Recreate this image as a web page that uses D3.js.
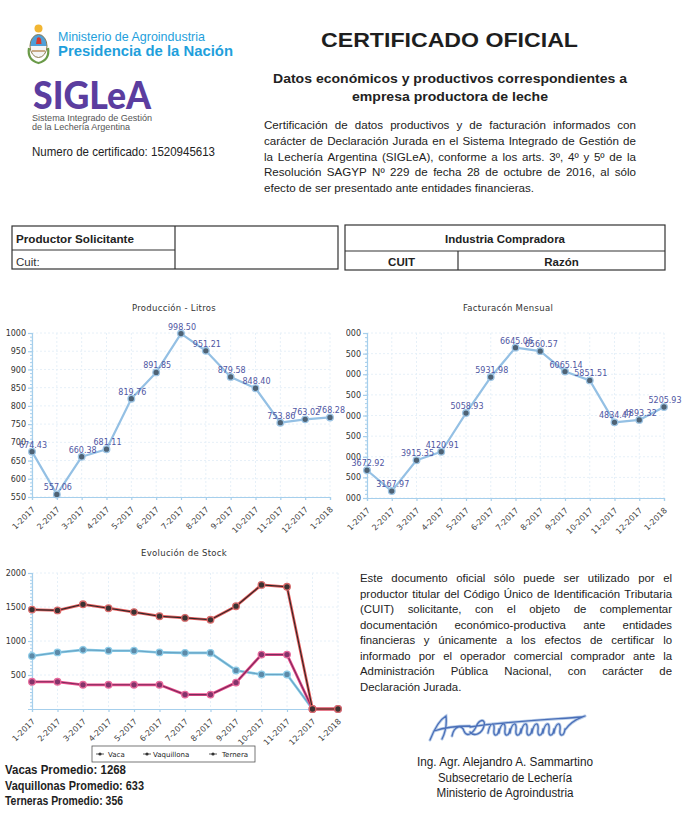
<!DOCTYPE html>
<html><head><meta charset="utf-8">
<script src="https://cdn.jsdelivr.net/npm/d3@7"></script>
<style>body{margin:0;background:#fff}svg{display:block}</style>
</head><body>
<script>
// ---------- DATA ----------
const months = ["1-2017","2-2017","3-2017","4-2017","5-2017","6-2017","7-2017","8-2017","9-2017","10-2017","11-2017","12-2017","1-2018"];
const produccion = [674.43,557.06,660.38,681.11,819.76,891.85,998.50,951.21,879.58,848.40,753.86,763.02,768.28];
const produccionTicks = [550,600,650,700,750,800,850,900,950,1000];
const facturacion = [3672.92,3167.97,3915.35,4120.91,5058.93,5931.98,6645.06,6560.57,6065.14,5851.51,4834.47,4893.32,5205.93];
const facturacionTicks = [3000,3500,4000,4500,5000,5500,6000,6500,7000];
const stockVaca = [1462,1450,1540,1482,1425,1365,1340,1312,1512,1825,1797,0,0];
const stockVaquillona = [780,832,870,857,857,832,825,825,567,508,508,0,0];
const stockTernera = [400,400,356,356,356,356,212,212,388,800,800,0,0];
const stockTicks = [500,1000,1500,2000];
const stockSeries = ["Vaca","Vaquillona","Ternera"];
const promedios = ["Vacas Promedio: 1268","Vaquillonas Promedio: 633","Terneras Promedio: 356"];

const headerParagraph = [
 "Certificación de datos productivos y de facturación informados con",
 "carácter de Declaración Jurada en el Sistema Integrado de Gestión de",
 "la Lechería Argentina (SIGLeA), conforme a los arts. 3º, 4º y 5º de la",
 "Resolución SAGYP Nº 229 de fecha 28 de octubre de 2016, al sólo",
 "efecto de ser presentado ante entidades financieras."
];
const legalParagraph = [
 "Este documento oficial sólo puede ser utilizado por el",
 "productor titular del Código Único de Identificación Tributaria",
 "(CUIT) solicitante, con el objeto de complementar",
 "documentación económico-productiva ante entidades",
 "financieras y únicamente a los efectos de certificar lo",
 "informado por el operador comercial comprador ante la",
 "Administración Pública Nacional, con carácter de",
 "Declaración Jurada."
];
const firmante = ["Ing. Agr. Alejandro A. Sammartino","Subsecretario de Lechería","Ministerio de Agroindustria"];

// ---------- SETUP ----------
const W=693,H=827;
const SANS='"Liberation Sans", Arial, sans-serif';
const CH='"DejaVu Sans", sans-serif';
const svg=d3.select('body').append('svg').attr('width',W).attr('height',H);
svg.append('rect').attr('width',W).attr('height',H).attr('fill','#fff');

function txt(g,x,y,s,o={}){
  const t=g.append('text').attr('x',x).attr('y',y).text(s)
    .style('font-family',o.family||SANS).style('font-size',(o.size||12)+'px')
    .style('font-weight',o.weight||'normal').attr('fill',o.fill||'#222')
    .attr('text-anchor',o.anchor||'start');
  if(o.len) t.attr('textLength',o.len).attr('lengthAdjust','spacingAndGlyphs');
  if(o.ls) t.style('letter-spacing',o.ls+'px');
  return t;
}
function justify(g,lines,x,y0,width,lh,size,lastLeft){
  lines.forEach((line,i)=>{
    const y=y0+i*lh;
    if(i===lines.length-1 && lastLeft){ txt(g,x,y,line,{size}); return; }
    const words=line.split(' ');
    const nodes=words.map(w=>txt(g,0,y,w,{size}));
    const ws=nodes.map(n=>n.node().getComputedTextLength());
    const sum=d3.sum(ws);
    let gap=(width-sum)/(words.length-1), sc=1;
    if(gap<2.5){gap=2.5; sc=(width-gap*(words.length-1))/sum;}
    let cx=x;
    nodes.forEach((n,j)=>{n.attr('x',cx); if(sc<1) n.attr('textLength',ws[j]*sc).attr('lengthAdjust','spacingAndGlyphs'); cx+=ws[j]*sc+gap;});
  });
}

// ---------- HEADER ----------
const hd=svg.append('g');
const ca=hd.append('g');
ca.append('circle').attr('cx',38.5).attr('cy',28.5).attr('r',4).attr('fill','#f2b632');
ca.append('path').attr('d','M29,48 Q27,60 38.5,63 Q50,60 48,48').attr('fill','none').attr('stroke','#6a9a48').attr('stroke-width',2.2);
ca.append('clipPath').attr('id','ov').append('ellipse').attr('cx',38.5).attr('cy',46).attr('rx',8.5).attr('ry',11.5);
ca.append('rect').attr('x',29).attr('y',34).attr('width',19).attr('height',12).attr('fill','#4f9fd8').attr('clip-path','url(#ov)');
ca.append('rect').attr('x',29).attr('y',46).attr('width',19).attr('height',12).attr('fill','#f5f5f5').attr('clip-path','url(#ov)');
ca.append('path').attr('d','M36,44 L37,38 Q39.5,36 41,39 L41.5,44 Z').attr('fill','#d83a2e');
ca.append('path').attr('d','M32,51 L45,51').attr('stroke','#b89060').attr('stroke-width',1.5);
ca.append('ellipse').attr('cx',38.5).attr('cy',46).attr('rx',8.5).attr('ry',11.5).attr('fill','none').attr('stroke','#8a7a50').attr('stroke-width',1);
txt(hd,58,41,'Ministerio de Agroindustria',{size:13,fill:'#1f9fdc',len:147});
txt(hd,58,56,'Presidencia de la Nación',{size:15,weight:'bold',fill:'#1f9fdc',len:175});
txt(hd,33,109,'SIGLeA',{size:38,weight:900,family:'Lato, "Open Sans", sans-serif',fill:'#5b3d9f',len:118});
txt(hd,32,121,'Sistema Integrado de Gestión',{size:9,fill:'#555',len:120});
txt(hd,32,130,'de la Lechería Argentina',{size:9,fill:'#555',len:98});
txt(hd,32,156,'Numero de certificado: 1520945613',{size:12,fill:'#222',len:183});
txt(hd,449.5,47,'CERTIFICADO OFICIAL',{size:21,weight:'bold',anchor:'middle',fill:'#1e1e1e',len:257});
txt(hd,450,83,'Datos económicos y productivos correspondientes a',{size:13.5,weight:'bold',anchor:'middle',len:354});
txt(hd,450,101,'empresa productora de leche',{size:13.5,weight:'bold',anchor:'middle',len:196});
justify(hd,headerParagraph,264,129,372,15.8,11.6,true);

// ---------- TABLES ----------
const tb=svg.append('g').attr('fill','none').attr('stroke','#333').attr('stroke-width',1.2);
tb.append('rect').attr('x',12).attr('y',226).attr('width',326).attr('height',43);
tb.append('line').attr('x1',175).attr('x2',175).attr('y1',226).attr('y2',269);
tb.append('line').attr('x1',12).attr('x2',175).attr('y1',250).attr('y2',250);
tb.append('rect').attr('x',345).attr('y',225).attr('width',320).attr('height',45);
tb.append('line').attr('x1',345).attr('x2',665).attr('y1',251).attr('y2',251);
tb.append('line').attr('x1',458).attr('x2',458).attr('y1',251).attr('y2',270);
txt(svg,16,243,'Productor Solicitante',{size:11.5,weight:'bold',len:118});
txt(svg,16,266,'Cuit:',{size:11.5,fill:'#333'});
txt(svg,505,243,'Industria Compradora',{size:11.5,weight:'bold',anchor:'middle',len:120});
txt(svg,401.5,266,'CUIT',{size:11.5,weight:'bold',anchor:'middle'});
txt(svg,561.5,266,'Razón',{size:11.5,weight:'bold',anchor:'middle'});

// ---------- CHART HELPERS ----------
const AX='#a6cfec', GRID='#e6f0f8';
function frame(g,x,y,ticks,minorStep,clipId){
  const [r0,r1]=x.range(); const [yb,yt]=y.range();
  g.append('g').selectAll('line').data(x.domain()).join('line')
    .attr('x1',d=>x(d)).attr('x2',d=>x(d)).attr('y1',yt).attr('y2',yb).attr('stroke',GRID).attr('stroke-dasharray','2,2');
  g.append('g').selectAll('line').data(ticks).join('line')
    .attr('x1',r0).attr('x2',r1).attr('y1',d=>y(d)).attr('y2',d=>y(d)).attr('stroke',GRID).attr('stroke-dasharray','2,2');
  const wrap=g.append('g');
  if(clipId) wrap.attr('clip-path',`url(#${clipId})`);
  const dmn=y.domain();
  const minor=wrap.append('g').attr('transform',`translate(${r0},0)`).call(d3.axisLeft(y).tickValues(d3.range(dmn[0],dmn[1]+0.001,minorStep)).tickSize(2).tickFormat(''));
  minor.selectAll('path,line').attr('stroke',AX);
  const ya=wrap.append('g').attr('transform',`translate(${r0},0)`).call(d3.axisLeft(y).tickValues(ticks).tickSize(4).tickPadding(2).tickFormat(d3.format('d')));
  ya.selectAll('path,line').attr('stroke',AX).attr('stroke-width',1.2);
  ya.selectAll('text').style('font-family',CH).style('font-size','8px').attr('fill','#333');
  const xa=g.append('g').attr('transform',`translate(0,${yb})`).call(d3.axisBottom(x).tickSize(3).tickFormat(d=>d));
  xa.selectAll('path,line').attr('stroke',AX).attr('stroke-width',1.2);
  xa.selectAll('text').attr('y',0).attr('dy',0).attr('transform','translate(3,13) rotate(-45)')
    .style('text-anchor','end').style('font-family',CH).style('font-size','8px').attr('fill','#444');
}
function series(g,x,y,vals,o){
  const line=d3.line().x((d,i)=>x(months[i])).y(d=>y(d));
  g.append('path').datum(vals).attr('d',line).attr('fill','none').attr('stroke',o.outer).attr('stroke-width',o.ow||3).attr('stroke-linejoin','round');
  if(o.inner) g.append('path').datum(vals).attr('d',line).attr('fill','none').attr('stroke',o.inner).attr('stroke-width',1.1);
  g.append('g').selectAll('circle').data(vals).join('circle')
    .attr('cx',(d,i)=>x(months[i])).attr('cy',d=>y(d)).attr('r',3.3)
    .attr('fill',o.mfill).attr('stroke',o.mstroke).attr('stroke-width',1.3);
  if(o.labels) g.append('g').selectAll('text').data(vals).join('text')
    .attr('x',(d,i)=>x(months[i])+1).attr('y',d=>y(d)-4).attr('text-anchor','middle')
    .style('font-family',CH).style('font-size','8px').attr('fill','#4f56a2').text(d=>d.toFixed(2));
}

// ---------- CHART 1: Producción ----------
{
  const g=svg.append('g');
  const x=d3.scalePoint().domain(months).range([32,330]);
  const y=d3.scaleLinear().domain([550,1000]).range([497,333]);
  txt(g,174,311,'Producción - Litros',{family:CH,size:8.5,anchor:'middle',fill:'#333',ls:0.3});
  frame(g,x,y,produccionTicks,10);
  series(g,x,y,produccion,{outer:'#94c0e4',ow:2.2,mfill:'#4e6274',mstroke:'#9cc4e4',labels:true});
}
// ---------- CHART 2: Facturación ----------
{
  const g=svg.append('g');
  g.append('clipPath').attr('id','c2').append('rect').attr('x',346).attr('y',300).attr('width',347).attr('height',240);
  const x=d3.scalePoint().domain(months).range([367,664]);
  const y=d3.scaleLinear().domain([3000,7000]).range([498,333]);
  txt(g,508,311,'Facturacón Mensual',{family:CH,size:8.5,anchor:'middle',fill:'#333',ls:0.3});
  frame(g,x,y,facturacionTicks,100,'c2');
  series(g,x,y,facturacion,{outer:'#94c0e4',ow:2.2,mfill:'#4e6274',mstroke:'#9cc4e4',labels:true});
}
// ---------- CHART 3: Stock ----------
{
  const g=svg.append('g');
  const x=d3.scalePoint().domain(months).range([32,338]);
  const y=d3.scaleLinear().domain([0,2000]).range([709,573]);
  txt(g,184,556,'Evolución de Stock',{family:CH,size:8.5,anchor:'middle',fill:'#333',ls:0.3});
  frame(g,x,y,stockTicks,50);
  series(g,x,y,stockVaquillona,{outer:'#86cbe8',ow:2.6,inner:'#6aa4c4',mfill:'#5c8aa8',mstroke:'#8ccbe8'});
  series(g,x,y,stockTernera,{outer:'#ec4a8a',ow:2.8,inner:'#7a2c5c',mfill:'#84336a',mstroke:'#e86a9c'});
  series(g,x,y,stockVaca,{outer:'#e65a5a',ow:2.8,inner:'#2e2828',mfill:'#3a3232',mstroke:'#d86a6a'});
  const lg=g.append('g');
  lg.append('rect').attr('x',92).attr('y',746).attr('width',163).attr('height',16).attr('fill','#fff').attr('stroke','#555').attr('stroke-width',0.8);
  const lx=[96,143,209], tx=[108,153,222];
  stockSeries.forEach((s,i)=>{
    lg.append('line').attr('x1',lx[i]).attr('x2',lx[i]+8).attr('y1',754).attr('y2',754).attr('stroke','#333').attr('stroke-width',0.8);
    lg.append('circle').attr('cx',lx[i]+4).attr('cy',754).attr('r',1.6).attr('fill','#333');
    txt(lg,tx[i],757,s,{family:CH,size:7,fill:'#222'});
  });
}
promedios.forEach((p,i)=>txt(svg,5,774+i*15.5,p,{size:12,weight:'bold',fill:'#1e1e1e',len:[121,139,118][i]}));

// ---------- LEGAL TEXT ----------
justify(svg.append('g'),legalParagraph,360,582,312,15.55,11.4,true);

// ---------- SIGNATURE ----------
{
  const sg=svg.append('g').attr('fill','none').attr('stroke-linecap','round');
  const pts=[];
  for(let k=0;k<7;k++){const bx=488+k*11; pts.push(`M${bx},733 C${bx+2},722 ${bx+7},721 ${bx+6},730 C${bx+5},737 ${bx+10},737 ${bx+11},729`);}
  const d='M430,740 C434,730 439,720 446,716 C447,725 445,733 442,739 M434,731 C446,727 458,726 470,726 '+
    'M452,736 C454,726 462,724 464,731 C466,737 472,735 476,727 C479,719 486,718 484,726 C482,734 474,737 470,732 '+pts.join(' ')+
    ' M565,730 C572,720 580,718 585,716 M470,727 C500,722 540,720 582,717';
  sg.append('path').attr('d',d).attr('stroke','#b8cce8').attr('stroke-width',3);
  sg.append('path').attr('d',d).attr('stroke','#4a6fb8').attr('stroke-width',1.3);
}
firmante.forEach((f,i)=>txt(svg,505,766+i*15.5,f,{size:12,anchor:'middle',fill:'#1e1e1e',len:[176,134,137][i]}));
</script>
</body></html>
